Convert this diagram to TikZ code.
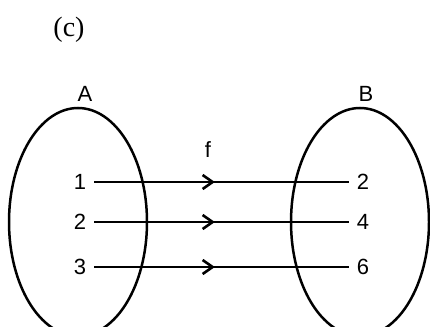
\documentclass[tikz,border=0pt]{standalone}
\usepackage{fontspec}
\setmainfont{Liberation Serif}
\setsansfont{Liberation Sans}
\usetikzlibrary{shapes.geometric,arrows.meta,decorations.markings}

\tikzstyle{elem} = [font=\sffamily\fontsize{22}{26}\selectfont, inner xsep=8pt, inner ysep=0pt]
\tikzstyle{lbl} = [font=\sffamily\fontsize{22}{26}\selectfont, inner sep=0pt]
\tikzstyle{setshape} = [ellipse, draw, line width=2.5pt, minimum width=138pt, minimum height=228pt, inner sep=0pt]
\tikzstyle{maparrow} = [line width=2.6pt, postaction={decorate},
	decoration={markings, mark=at position 0.474 with {\arrow{Straight Barb[length=10pt,width=14pt]}}}]

\begin{document}
\begin{tikzpicture}[x=1pt,y=-1pt]
\useasboundingbox (0,0) rectangle (430,326);
\clip (0,0) rectangle (430,326);
\node[inner sep=0pt] (tag) at (69,30) {\fontsize{28}{32}\selectfont (c)};
% the two sets
\node[setshape] (setA) at (78,222) {};
\node[setshape] (setB) at (360,222) {};
\node[lbl] (nameA) at (85,94) {A};
\node[lbl] (nameB) at (366,94) {B};
\node[lbl] (fname) at (208,150) {f};
% elements and mapping
\foreach \src/\dst/\row [count=\k] in {1/2/182, 2/4/222, 3/6/267} {
	\node[elem] (a\k) at (80,\row) {\src};
	\node[elem] (b\k) at (363,\row) {\dst};
	\draw[maparrow] (a\k) -- (b\k);
}
\end{tikzpicture}
\end{document}
